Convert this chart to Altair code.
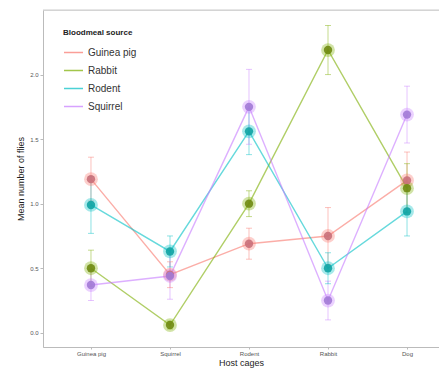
import altair as alt
import pandas as pd

cages = ["Guinea pig", "Squirrel", "Rodent", "Rabbit", "Dog"]
sources = ["Guinea pig", "Rabbit", "Rodent", "Squirrel"]
colors = ["#F8766D", "#7CAE00", "#00BFC4", "#C77CFF"]
core_colors = ["#c9707a", "#6f8a12", "#11a3a3", "#a27ad6"]

gp_mean = [1.19, 0.45, 0.69, 0.75, 1.18]
rabbit_mean = [0.50, 0.06, 1.00, 2.19, 1.12]
rodent_mean = [0.99, 0.63, 1.56, 0.50, 0.94]
squirrel_mean = [0.37, 0.44, 1.75, 0.25, 1.69]

gp_se = [0.17, 0.10, 0.12, 0.22, 0.22]
rabbit_se = [0.14, 0.03, 0.10, 0.19, 0.19]
rodent_se = [0.22, 0.12, 0.18, 0.12, 0.19]
squirrel_se = [0.12, 0.18, 0.29, 0.15, 0.22]

means = [gp_mean, rabbit_mean, rodent_mean, squirrel_mean]
ses = [gp_se, rabbit_se, rodent_se, squirrel_se]

rows = []
for s, m, e in zip(sources, means, ses):
    for c, mv, ev in zip(cages, m, e):
        rows.append({"cage": c, "source": s, "mean": mv, "lo": mv - ev, "hi": mv + ev})
df = pd.DataFrame(rows)

W, H = 396, 337

xs = alt.X("cage:N", sort=cages,
           scale=alt.Scale(type="point", padding=0.506, align=0.6),
           axis=alt.Axis(title="Host cages", labelAngle=0, labelFontSize=6,
                         labelColor="#555555", titleFontSize=9, titleFontWeight="normal",
                         titleColor="#222222", titleY=20, titleBaseline="bottom",
                         tickSize=2, labelPadding=1, domainColor="#bbbbbb",
                         tickColor="#bbbbbb", grid=False))
ys = alt.Y("mean:Q", scale=alt.Scale(domain=[-0.11, 2.5], nice=False, zero=False),
           axis=alt.Axis(title="Mean number of flies", format=".1f",
                         values=[0, 0.5, 1.0, 1.5, 2.0], labelFontSize=6,
                         labelColor="#555555", titleFontSize=9, titleFontWeight="normal",
                         titleColor="#222222", titlePadding=4, tickSize=3,
                         labelPadding=2, domainColor="#bbbbbb", tickColor="#bbbbbb",
                         grid=False))

col = alt.Color("source:N", sort=sources,
                scale=alt.Scale(domain=sources, range=colors),
                legend=alt.Legend(title="Bloodmeal source", orient="none",
                                  legendX=20, legendY=19, symbolType="stroke",
                                  symbolSize=360, symbolStrokeWidth=1.5,
                                  labelFontSize=10, titleFontSize=8,
                                  titleFontWeight="bold", titleColor="#222222",
                                  labelColor="#333333", rowPadding=2,
                                  titlePadding=5, symbolOpacity=0.7))

base = alt.Chart(df)

def c_enc(rng):
    return alt.Color("source:N", legend=None, scale=alt.Scale(domain=sources, range=rng))

lines = base.mark_line(strokeWidth=1.4, opacity=0.6).encode(x=xs, y=ys, color=col)
err = base.mark_rule(strokeWidth=1, opacity=0.45).encode(
    x=xs, y="lo:Q", y2="hi:Q", color=c_enc(colors))
cap_lo = base.mark_tick(size=6, thickness=1, opacity=0.45).encode(
    x=xs, y="lo:Q", color=c_enc(colors))
cap_hi = base.mark_tick(size=6, thickness=1, opacity=0.45).encode(
    x=xs, y="hi:Q", color=c_enc(colors))
halo = base.mark_circle(size=190, opacity=0.35).encode(x=xs, y=ys, color=c_enc(colors))
core = base.mark_circle(size=70, opacity=0.9).encode(x=xs, y=ys, color=c_enc(core_colors))

topline = alt.Chart(pd.DataFrame({"a": [0]})).mark_rule(color="#cccccc", strokeWidth=1).encode(
    y=alt.value(0), x=alt.value(0), x2=alt.value(W))

chart = alt.layer(topline, err, cap_lo, cap_hi, lines, halo, core).resolve_scale(
    color="independent").properties(
    width=W, height=H,
    padding={"left": 35, "top": 2, "right": 0, "bottom": 21},
    autosize=alt.AutoSizeParams(type="none"),
).configure_view(stroke=None).configure(font="Liberation Sans")

chart.save("out.html", embed_options={"renderer": "svg", "actions": False})
